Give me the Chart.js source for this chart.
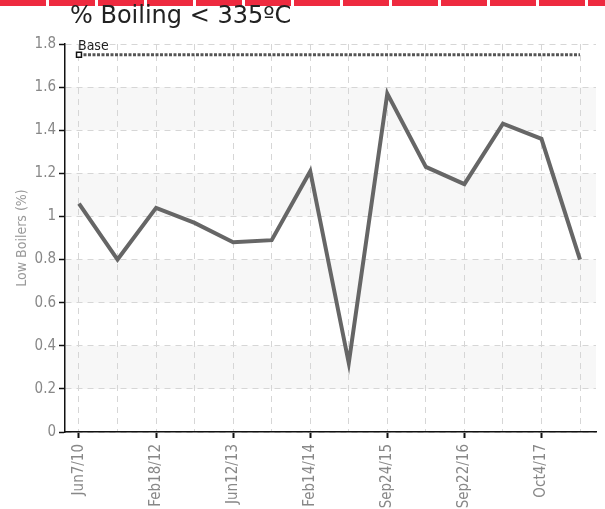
<!DOCTYPE html>
<html>
<head>
<meta charset="utf-8">
<script src="https://cdn.jsdelivr.net/npm/chart.js@4"></script>
<style>
  html, body { margin: 0; padding: 0; background: #fff; }
  #wrap { position: relative; width: 605px; height: 509px; overflow: hidden; }
  #topbar {
    position: absolute; left: 0; top: 0; width: 605px; height: 6px;
    background: repeating-linear-gradient(90deg, #ee2a3f 0px, #ee2a3f 46px, #fff 46px, #fff 49px);
  }
  #title {
    position: absolute; left: 70px; top: 1px;
    font-family: "DejaVu Sans", sans-serif; font-size: 24px; color: #222;
    white-space: nowrap;
  }
  canvas { position: absolute; left: 0; top: 0; }
</style>
</head>
<body>
<div id="wrap">
  <canvas id="chart" width="605" height="509"></canvas>
  <div id="topbar"></div>
  <div id="title">% Boiling &lt; 335ºC</div>
</div>
<script>
// dati
const dates = ['Jun7/10', 'Apr5/11', 'Feb18/12', 'Oct3/12', 'Jun12/13', 'Oct9/13', 'Feb14/14',
  'Jan22/15', 'Sep24/15', 'Mar3/16', 'Sep22/16', 'Apr7/17', 'Oct4/17', 'Feb12/18'];
const lowBoilers = [1.06, 0.80, 1.04, 0.97, 0.88, 0.89, 1.21, 0.32, 1.57, 1.23, 1.15, 1.43, 1.36, 0.80];
const baseValue = 1.75;
const yTicks = [0, 0.2, 0.4, 0.6, 0.8, 1, 1.2, 1.4, 1.6, 1.8];
const shadedBands = [[0.2, 0.4], [0.6, 0.8], [1.0, 1.2], [1.4, 1.6]];

const font = '"DejaVu Sans Condensed", "Liberation Sans Narrow", sans-serif';

// bande grigie alternate dietro la griglia
const bandsPlugin = {
  id: 'bands',
  beforeDraw(chart) {
    const { ctx, chartArea, scales } = chart;
    ctx.save();
    ctx.fillStyle = '#f7f7f7';
    shadedBands.forEach(b => {
      const y1 = scales.y.getPixelForValue(b[1]);
      const y2 = scales.y.getPixelForValue(b[0]);
      ctx.fillRect(chartArea.left, y1, chartArea.right - chartArea.left, y2 - y1);
    });
    ctx.restore();
  }
};

// etichetta "Base" sopra il primo punto della linea di riferimento
const baseLabelPlugin = {
  id: 'baseLabel',
  afterDatasetsDraw(chart) {
    const { ctx, scales } = chart;
    const x = scales.x.getPixelForValue(0);
    const y = scales.y.getPixelForValue(baseValue);
    ctx.save();
    ctx.font = '14px ' + font;
    ctx.fillStyle = '#222';
    ctx.textAlign = 'left';
    ctx.textBaseline = 'bottom';
    ctx.fillText('Base', x - 1, y - 1);
    ctx.restore();
  }
};

const ctx = document.getElementById('chart').getContext('2d');
new Chart(ctx, {
  type: 'line',
  data: {
    datasets: [{
      label: 'Low Boilers',
      data: lowBoilers.map((v, i) => ({ x: i, y: v })),
      borderColor: '#666',
      borderWidth: 4,
      pointRadius: 0,
      tension: 0
    }, {
      label: 'Base',
      data: dates.map((d, i) => ({ x: i, y: baseValue })),
      borderColor: '#555',
      borderWidth: 3,
      borderDash: [3, 1.5],
      pointStyle: 'rect',
      pointRadius: ctx => ctx.dataIndex === 0 ? 3.5 : 0,
      pointBackgroundColor: '#fff',
      pointBorderColor: '#111',
      pointBorderWidth: 1.5
    }]
  },
  options: {
    responsive: false,
    animation: false,
    layout: { padding: { top: 44, right: 9, left: 0, bottom: 0 } },
    plugins: { legend: { display: false }, tooltip: { enabled: false } },
    scales: {
      x: {
        type: 'linear',
        min: -0.363,
        max: 13.415,
        afterBuildTicks: scale => { scale.ticks = dates.map((d, i) => ({ value: i })); },
        afterFit: scale => { scale.height = 77; },
        ticks: {
          autoSkip: false,
          maxRotation: 90,
          minRotation: 90,
          padding: 6,
          color: '#888',
          font: { family: font, size: 15 },
          callback: v => (v % 2 === 0 ? dates[v] : '')
        },
        grid: {
          color: '#d6d6d6',
          lineWidth: 1,
          tickLength: 6,
          tickWidth: 2,
          tickColor: c => (c.index % 2 === 0 ? '#111' : 'rgba(0,0,0,0)')
        },
        border: { color: '#111', width: 1.5, dash: [6, 5] }
      },
      y: {
        min: 0,
        max: 1.8,
        afterBuildTicks: scale => { scale.ticks = yTicks.map(v => ({ value: v })); },
        afterFit: scale => { scale.width = 65; },
        ticks: {
          padding: 3,
          color: '#888',
          font: { family: font, size: 15 },
          callback: v => String(+v.toFixed(1))
        },
        grid: {
          color: '#d6d6d6',
          lineWidth: 1,
          tickLength: 6,
          tickWidth: 1.5,
          tickColor: '#111'
        },
        border: { color: '#111', width: 1.5, dash: [6, 5] },
        title: {
          display: true,
          text: 'Low Boilers (%)',
          color: '#999',
          font: { family: font, size: 14 },
          padding: { top: 14, bottom: 0 }
        }
      }
    }
  },
  plugins: [bandsPlugin, baseLabelPlugin]
});
</script>
</body>
</html>
